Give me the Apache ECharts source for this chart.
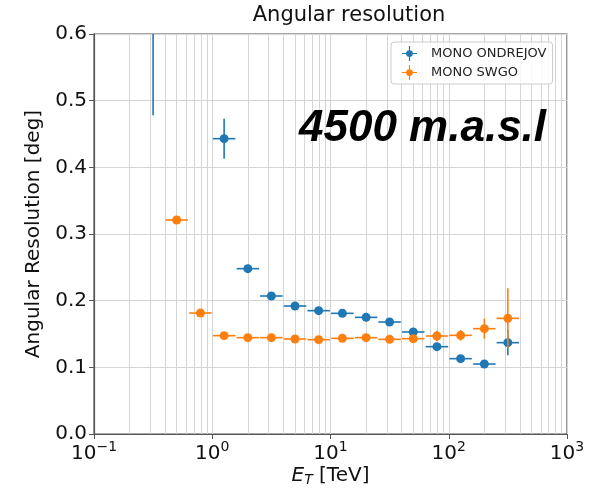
<!DOCTYPE html>
<html><head><meta charset="utf-8">
<script src="https://cdn.jsdelivr.net/npm/echarts@6/dist/echarts.min.js"></script>
<style>html,body{margin:0;padding:0;background:#fff}#c{width:600px;height:490px}</style>
</head><body><div id="c"></div>
<script>
// ---- data ----
const ondrejovE   = [0.316, 1.26, 2.0, 3.16, 5.01, 7.94, 12.6, 20.0, 31.6, 50.1, 79.4, 126, 200, 316];
const ondrejovRes = [0.80, 0.443, 0.248, 0.207, 0.192, 0.185, 0.181, 0.175, 0.168, 0.153, 0.131, 0.113, 0.105, 0.137];
const ondrejovErr = [0.322, 0.030, 0.004, 0.004, 0.003, 0.003, 0.003, 0.003, 0.003, 0.004, 0.005, 0.005, 0.006, 0.019];

const swgoE   = [0.5, 0.794, 1.26, 2.0, 3.16, 5.01, 7.94, 12.6, 20.0, 31.6, 50.1, 79.4, 126, 200, 316];
const swgoRes = [0.321, 0.1815, 0.1475, 0.1445, 0.1445, 0.1425, 0.1415, 0.1435, 0.1445, 0.142, 0.143, 0.147, 0.148, 0.158, 0.1735];
const swgoErr = [0.004, 0.003, 0.003, 0.002, 0.002, 0.002, 0.002, 0.002, 0.003, 0.003, 0.004, 0.008, 0.008, 0.015, 0.045];

const binHalfWidthDex = 0.095;   // horizontal error bar half width (decades)
const xTicks = [0.1, 1, 10, 100, 1000];
const xMinorGrid = [0.2,0.3,0.4,0.5,0.6,0.7,0.8,0.9, 2,3,4,5,6,7,8,9, 20,30,40,50,60,70,80,90, 200,300,400,500,600,700,800,900];
const yTicks = [0, 0.1, 0.2, 0.3, 0.4, 0.5, 0.6];

const BLUE = '#1f77b4', ORANGE = '#ff7f0e', GRIDC = '#d5d5d5', AXC = '#555';
const FONT = 'DejaVu Sans';

function rows(xs, ys, es){ return xs.map((x,i)=>[x, ys[i], es[i]]); }

function errRender(color){
  const f = Math.pow(10, binHalfWidthDex);
  return function(params, api){
    const x = api.value(0), y = api.value(1), e = api.value(2);
    const cs = params.coordSys;
    const top = cs.y, bot = cs.y + cs.height;
    const p  = api.coord([x, y]);
    const pl = api.coord([x / f, y]);
    const pr = api.coord([x * f, y]);
    const pt = api.coord([x, y + e]);
    const pb = api.coord([x, y - e]);
    const children = [];
    const st = {stroke: color, lineWidth: 1.6};
    if (p[1] >= top && p[1] <= bot) {
      children.push({type:'line', shape:{x1:pl[0], y1:p[1], x2:pr[0], y2:p[1]}, style: st});
    }
    const y1 = Math.max(pt[1], top), y2 = Math.min(pb[1], bot);
    if (y2 > y1) children.push({type:'line', shape:{x1:p[0], y1:y1, x2:p[0], y2:y2}, style: st});
    return {type:'group', children};
  };
}

const supMap = {'-1':'\u22121','0':'0','1':'1','2':'2','3':'3'};
const legendIcon = 'path://M0,9.2H20V10.8H0Z M9.2,0H10.8V20H9.2Z M10,5.5A4.5,4.5 0 1 1 9.99,5.5Z';

const chart = echarts.init(document.getElementById('c'), null, {renderer:'canvas'});
chart.setOption({
  animation: false,
  backgroundColor: '#fff',
  title: {
    text: 'Angular resolution', left: 344, top: 0, textAlign: 'center',
    textStyle: {fontFamily: FONT, fontSize: 21, fontWeight: 'normal', color: '#111'}
  },
  grid: {left: 94, right: 33, top: 34, bottom: 56, show: true, borderColor: AXC, borderWidth: 1.2,
         backgroundColor: 'transparent', containLabel: false, outerBoundsMode: 'none'},
  legend: {
    data: [{name:'MONO ONDREJOV', icon: legendIcon, itemStyle:{color: BLUE}}, {name:'MONO SWGO', icon: legendIcon, itemStyle:{color: ORANGE}}],
    orient: 'vertical', left: 391, top: 42, itemWidth: 15, itemHeight: 15, itemGap: 4,
    padding: [4, 6, 4, 11], borderColor: '#ccc', borderWidth: 1, borderRadius: 3,
    backgroundColor: 'rgba(255,255,255,0.85)', z: 20,
    textStyle: {fontFamily: FONT, fontSize: 13, color: '#222', padding: [0,0,0,9]}
  },
  xAxis: {
    type: 'log', logBase: 10, min: 0.1, max: 1000,
    axisLine: {show: true, onZero: false, lineStyle: {color: AXC, width: 1.2}},
    axisTick: {show: true, inside: false, length: 5, lineStyle: {color: AXC}},
    splitLine: {show: true, lineStyle: {color: GRIDC, width: 1}},
    axisLabel: {
      margin: 6, color: '#111',
      formatter: v => { const k = String(Math.round(Math.log10(v))); return '{b|10}{s|' + supMap[k] + '}'; },
      rich: {
        b: {fontFamily: FONT, fontSize: 20, color: '#111', verticalAlign: 'bottom'},
        s: {fontFamily: FONT, fontSize: 14, color: '#111', verticalAlign: 'top', padding: [0,0,10,0]}
      }
    },
    name: '{i|E}{sub|T} [TeV]', nameLocation: 'middle', nameGap: 30, nameMoveOverlap: false,
    nameTextStyle: {
      fontFamily: FONT, fontSize: 20, color: '#111',
      rich: {
        i: {fontFamily: FONT, fontStyle: 'italic', fontSize: 20, color: '#111'},
        sub: {fontFamily: FONT, fontStyle: 'italic', fontSize: 14, color: '#111', padding: [9,0,0,0]}
      }
    }
  },
  yAxis: {
    type: 'value', min: yTicks[0], max: yTicks[yTicks.length-1], interval: 0.1,
    axisLine: {show: true, onZero: false, lineStyle: {color: AXC, width: 1.2}},
    axisTick: {show: true, inside: false, length: 5, lineStyle: {color: AXC}},
    splitLine: {show: true, lineStyle: {color: GRIDC, width: 1}},
    axisLabel: {margin: 7, fontFamily: FONT, fontSize: 20, color: '#111', formatter: v => v.toFixed(1)},
    name: 'Angular Resolution [deg]', nameLocation: 'middle', nameGap: 47,
    nameTextStyle: {fontFamily: FONT, fontSize: 20, color: '#111'}
  },
  graphic: [{
    type: 'text', left: 299, top: 107, z: 30,
    style: {text: '4500 m.a.s.l', font: 'italic bold 44px "Liberation Sans", Arial, sans-serif', fill: '#000', stroke: null, lineWidth: 0}
  }],
  series: [
    {
      type: 'scatter', name: 'minorGrid', data: [], silent: true, z: 0,
      markLine: {
        silent: true, z: 0, symbol: ['none','none'], label: {show: false}, animation: false,
        lineStyle: {color: GRIDC, type: 'solid', width: 1},
        emphasis: {disabled: true},
        data: xMinorGrid.map(v => ({xAxis: v}))
      }
    },
    {type: 'custom', name: 'errO', renderItem: errRender(BLUE), data: rows(ondrejovE, ondrejovRes, ondrejovErr), encode: {x: 0, y: 1}, clip: true, z: 10},
    {type: 'scatter', name: 'MONO ONDREJOV', data: rows(ondrejovE, ondrejovRes, ondrejovErr), symbol: 'circle', symbolSize: 9, itemStyle: {color: BLUE, opacity: 1}, clip: true, z: 10},
    {type: 'custom', name: 'errS', renderItem: errRender(ORANGE), data: rows(swgoE, swgoRes, swgoErr), encode: {x: 0, y: 1}, clip: true, z: 11},
    {type: 'scatter', name: 'MONO SWGO', data: rows(swgoE, swgoRes, swgoErr), symbol: 'circle', symbolSize: 9, itemStyle: {color: ORANGE, opacity: 1}, clip: true, z: 11}
  ]
});
</script></body></html>
